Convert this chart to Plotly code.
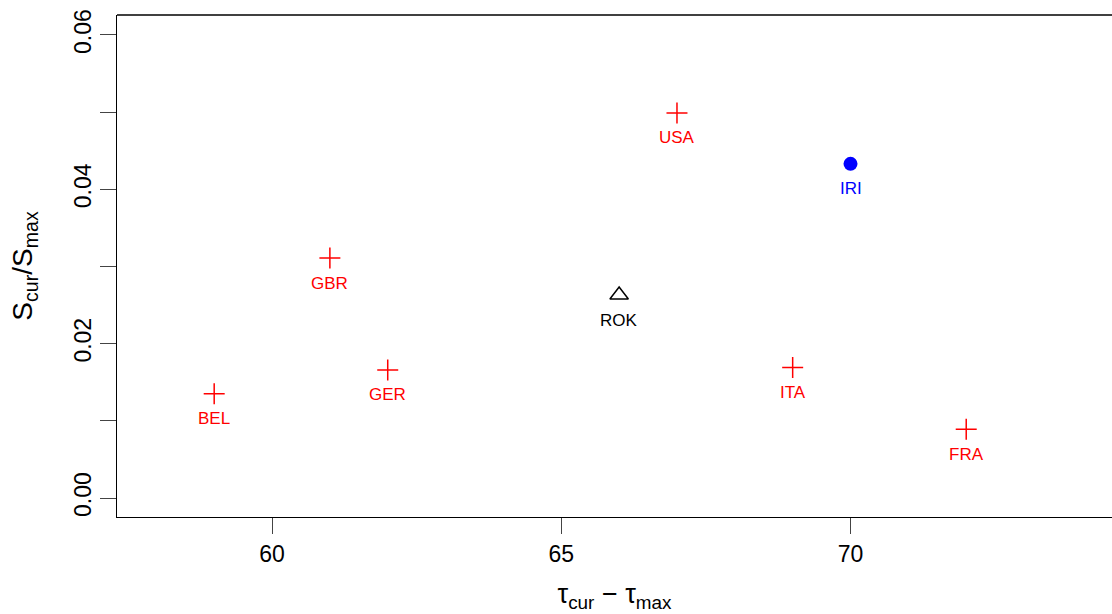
import plotly.graph_objects as go

countries = ["BEL", "GBR", "GER", "ROK", "USA", "IRI", "ITA", "FRA"]
tau_diff = [59, 61, 62, 66, 67, 70, 69, 72]
s_ratio = [0.0135, 0.0311, 0.0166, 0.0263, 0.0499, 0.0433, 0.0169, 0.0089]
groups = ["cross", "cross", "cross", "tri", "cross", "dot", "cross", "cross"]

x_ticks = [60, 65, 70]
y_ticks = [0.00, 0.01, 0.02, 0.03, 0.04, 0.05, 0.06]
y_ticklabels = ["0.00", "", "0.02", "", "0.04", "", "0.06"]

style = {
    "cross": dict(symbol="cross-thin", color="red", size=15, lw=1.5),
    "tri": dict(symbol="triangle-up-open", color="black", size=16, lw=1.5),
    "dot": dict(symbol="circle", color="blue", size=14, lw=0),
}

fig = go.Figure()
for g in ["cross", "tri", "dot"]:
    idx = [i for i, gg in enumerate(groups) if gg == g]
    st = style[g]
    fig.add_trace(go.Scatter(
        x=[tau_diff[i] for i in idx], y=[s_ratio[i] for i in idx],
        mode="markers",
        marker=dict(symbol=st["symbol"], size=st["size"], color=st["color"],
                    line=dict(color=st["color"], width=st["lw"])),
        showlegend=False, hoverinfo="skip"))

for c, x, y, g in zip(countries, tau_diff, s_ratio, groups):
    fig.add_annotation(x=x, y=y, text=c, showarrow=False, yshift=-25,
                       font=dict(size=17, color=style[g]["color"],
                                 family="Liberation Sans, Arial"))

# top border of the box
fig.add_shape(type="line", xref="paper", yref="paper", x0=0, x1=1, y0=1, y1=1,
              line=dict(color="black", width=1.3))

fig.update_layout(
    width=1112, height=614,
    margin=dict(l=117, r=0, t=15, b=97),
    plot_bgcolor="white", paper_bgcolor="white",
    font=dict(family="Liberation Sans, Arial", color="black"),
    xaxis=dict(range=[57.32, 74.52], tickvals=x_ticks, ticks="outside", ticklen=16,
               tickwidth=1, showgrid=False, zeroline=False, showline=True,
               linecolor="black", linewidth=1.3, tickfont=dict(size=23),
               title=dict(text="τ<sub>cur</sub> − τ<sub>max</sub>", font=dict(size=27),
                          standoff=18)),
    yaxis=dict(range=[-0.00246, 0.06259], tickvals=y_ticks, ticktext=y_ticklabels,
               ticks="outside", ticklen=16, tickwidth=1, tickangle=-90,
               showgrid=False, zeroline=False, showline=True, linecolor="black",
               linewidth=1.3, tickfont=dict(size=23),
               title=dict(text="S<sub>cur</sub>/S<sub>max</sub>", font=dict(size=28),
                          standoff=28)),
)

fig.write_html("out.html")
